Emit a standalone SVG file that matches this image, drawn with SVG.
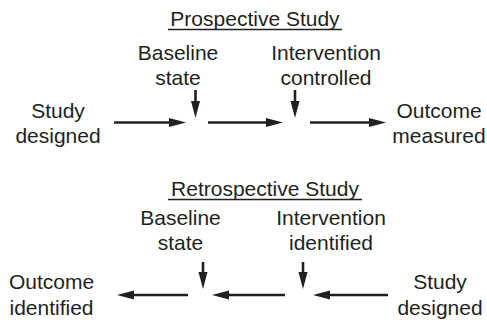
<svg xmlns="http://www.w3.org/2000/svg" width="487" height="322" viewBox="0 0 487 322">
<style>
text{font-family:"Liberation Sans",Arial,sans-serif;font-size:21px;fill:#231f20;text-anchor:middle}
.ul{stroke:#231f20;stroke-width:1.4}
.c{stroke:#231f20;stroke-width:2.6;fill:none;marker-end:url(#ah)}
</style>
<defs>
<marker id="ah" markerUnits="userSpaceOnUse" viewBox="0 -5 17 10" refX="0" refY="0" markerWidth="17" markerHeight="10" orient="auto" overflow="visible">
<path d="M0,-4.5 L17,0 L0,4.5 z" fill="#231f20"/>
</marker>
</defs>
<g id="prospective-title"><text x="255" y="26">Prospective Study</text><line class="ul" x1="168" y1="29.5" x2="342" y2="29.5"/></g>
<g id="p-baseline"><text x="178" y="60">Baseline</text><text x="178" y="85">state</text></g>
<g id="p-intervention"><text x="326" y="60">Intervention</text><text x="326" y="85">controlled</text></g>
<g id="p-study"><text x="58" y="118">Study</text><text x="58" y="143">designed</text></g>
<g id="p-outcome"><text x="439" y="118">Outcome</text><text x="439" y="143">measured</text></g>
<g id="retrospective-title"><text x="265" y="196">Retrospective Study</text><line class="ul" x1="168" y1="199.5" x2="362" y2="199.5"/></g>
<g id="r-baseline"><text x="180.5" y="225">Baseline</text><text x="180.5" y="250">state</text></g>
<g id="r-intervention"><text x="331" y="225">Intervention</text><text x="331" y="250">identified</text></g>
<g id="r-outcome"><text x="51.5" y="289">Outcome</text><text x="51.5" y="315">identified</text></g>
<g id="r-study"><text x="440" y="289">Study</text><text x="440" y="315">designed</text></g>
<g id="connectors">
<line class="c" x1="114" y1="122.5" x2="169" y2="122.5"/>
<line class="c" x1="208" y1="122.5" x2="266" y2="122.5"/>
<line class="c" x1="310" y1="122.5" x2="369" y2="122.5"/>
<line class="c" x1="195.5" y1="90" x2="195.5" y2="101"/>
<line class="c" x1="295" y1="90" x2="295" y2="101"/>
<line class="c" x1="188" y1="295" x2="134" y2="295"/>
<line class="c" x1="285" y1="295" x2="229" y2="295"/>
<line class="c" x1="388" y1="295" x2="330" y2="295"/>
<line class="c" x1="203" y1="262" x2="203" y2="272"/>
<line class="c" x1="303" y1="262" x2="303" y2="272"/>
</g>
</svg>
